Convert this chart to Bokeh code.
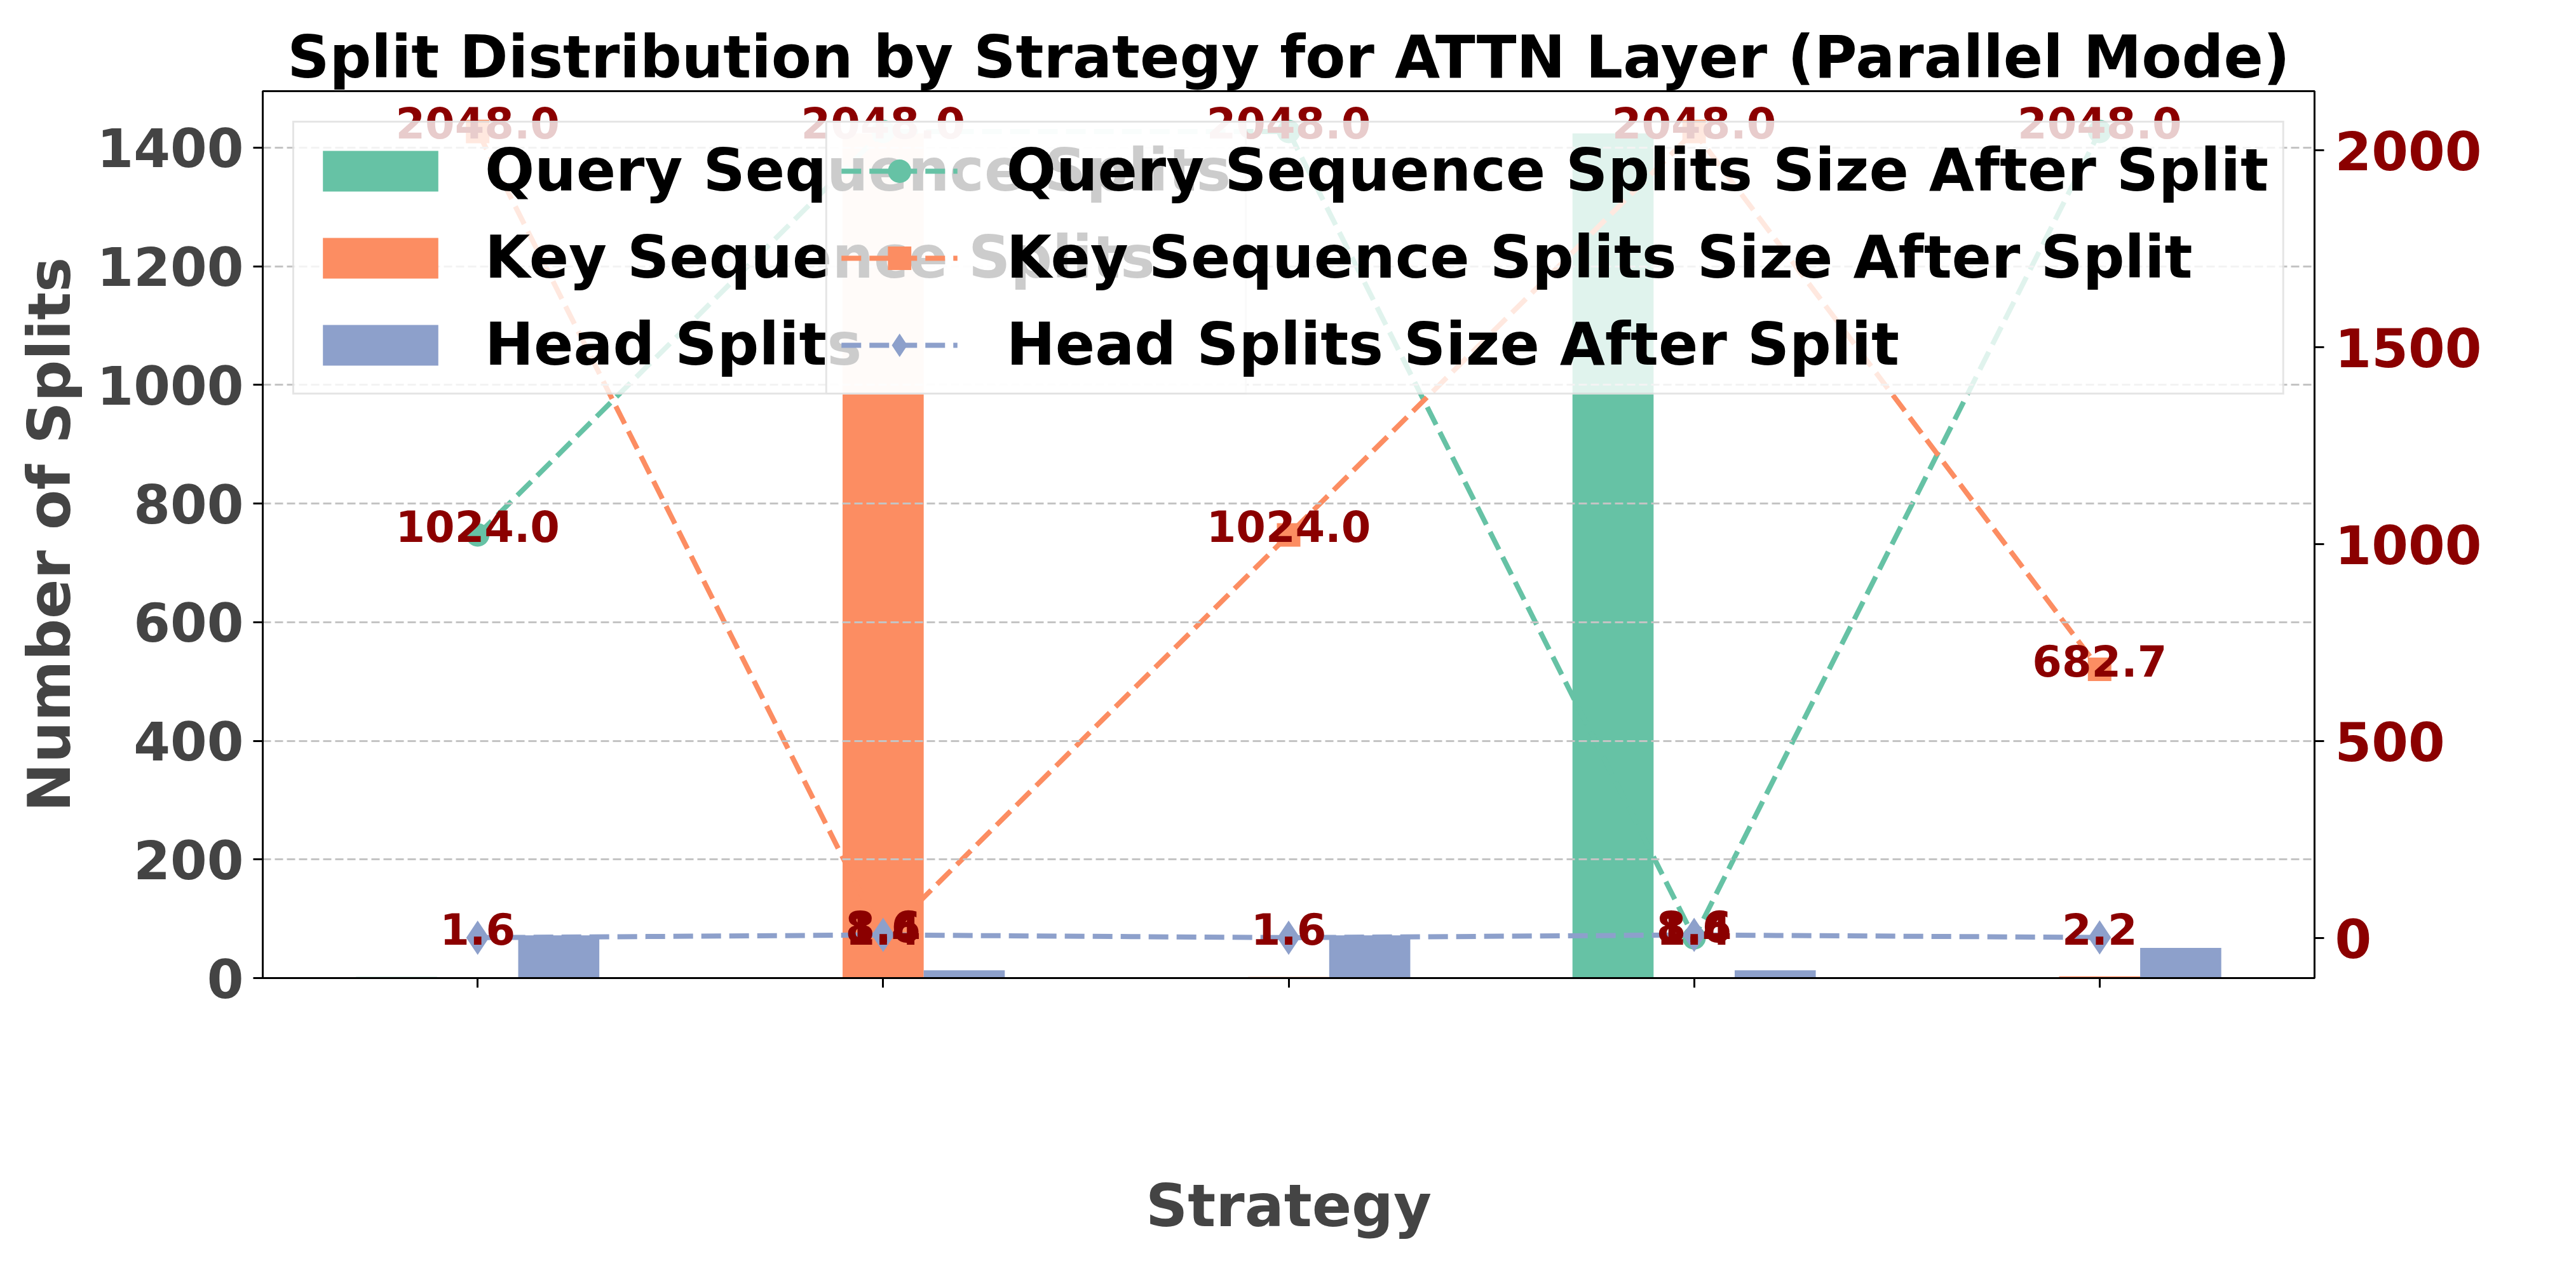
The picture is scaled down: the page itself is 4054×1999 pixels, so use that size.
import numpy as np
from bokeh.plotting import figure
from bokeh.models import Range1d, LinearAxis, FixedTicker, Legend, LegendItem, Label
from bokeh.core.properties import value
from bokeh.embed import file_html
from bokeh.resources import INLINE

# ---------------- data ----------------
strategies = ["Head-embedding", "Key-Sequence", "Hybrid", "Query-Sequence", "Combined"]
query_splits = [2, 1, 1, 1424, 1]
key_splits = [1, 1424, 2, 1, 3]
head_splits = [72, 13, 72, 13, 51]
query_size = [1024.0, 2048.0, 2048.0, 1.4, 2048.0]
key_size = [2048.0, 1.4, 1024.0, 2048.0, 682.7]
head_size = [1.6, 8.6, 1.6, 8.6, 2.2]
left_ticks = [0, 200, 400, 600, 800, 1000, 1200, 1400]
right_ticks = [0, 500, 1000, 1500, 2000]

title_text = "Split Distribution by Strategy for ATTN Layer (Parallel Mode)"
bar_labels = ["Query Sequence Splits", "Key Sequence Splits", "Head Splits"]
line_labels = ["Query Sequence Splits Size After Split",
               "Key Sequence Splits Size After Split",
               "Head Splits Size After Split"]

# ---------------- layout / style ----------------
W, H = 4054, 1999
FL, FR, FT, FB = 413, 3642, 143, 1539
C_Q, C_K, C_H = "#66c2a5", "#fc8d62", "#8da0cb"
DARKRED = "#8B0000"
FONT = "DejaVu Sans"
BIG = "92px"
BW = 0.2

n = len(strategies)
pos = [float(i) for i in range(n)]
xlo = pos[0] - 1.5 * BW
xhi = pos[-1] + 1.5 * BW
xm = 0.05 * (xhi - xlo)
xlo, xhi = xlo - xm, xhi + xm
ytop = max(max(query_splits), max(key_splits), max(head_splits)) * 1.05
allsz = query_size + key_size + head_size
rm = 0.05 * (max(allsz) - min(allsz))
rlo, rhi = min(allsz) - rm, max(allsz) + rm


def px2x(px):
    return float(xlo + (px - FL) * (xhi - xlo) / (FR - FL))


def py2y(py):
    return float((FB - py) * ytop / (FB - FT))


p = figure(width=W, height=H, x_range=Range1d(xlo, xhi), y_range=Range1d(0, ytop),
           output_backend="svg", toolbar_location=None, title=title_text,
           min_border_left=FL, min_border_right=W - FR, min_border_top=FT,
           min_border_bottom=H - FB)
p.extra_y_ranges = {"size": Range1d(rlo, rhi)}
p.background_fill_color = "white"
p.border_fill_color = "white"
p.outline_line_color = "black"
p.outline_line_width = 3

p.title.text_font = FONT
p.title.text_font_size = BIG
p.title.text_font_style = "bold"
p.title.align = "center"
p.title.standoff = 0
p.title.text_color = "black"

# grid
p.xgrid.grid_line_color = None
p.ygrid.ticker = FixedTicker(ticks=left_ticks)
p.ygrid.grid_line_color = "#c4c4c4"
p.ygrid.grid_line_dash = "13 6"
p.ygrid.grid_line_width = 3
p.ygrid.level = "glyph"

# bars
bq = p.vbar(x=[x - BW for x in pos], top=query_splits, width=BW, color=C_Q, line_color=None, level="underlay")
bk = p.vbar(x=pos, top=key_splits, width=BW, color=C_K, line_color=None, level="underlay")
bh = p.vbar(x=[x + BW for x in pos], top=head_splits, width=BW, color=C_H, line_color=None, level="underlay")

# lines with markers
dash = "31 13"
lq = p.line(pos, query_size, y_range_name="size", color=C_Q, line_width=8, line_dash=dash)
sq = p.scatter(pos, query_size, y_range_name="size", marker="circle", size=37, color=C_Q, line_alpha=0)
lk = p.line(pos, key_size, y_range_name="size", color=C_K, line_width=8, line_dash=dash)
sk = p.scatter(pos, key_size, y_range_name="size", marker="square", size=37, color=C_K, line_alpha=0)
lh = p.line(pos, head_size, y_range_name="size", color=C_H, line_width=8, line_dash=dash)
sh = p.scatter(pos, head_size, y_range_name="size", marker="diamond", size=54, color=C_H, line_alpha=0)

# value labels
for series in (query_size, key_size, head_size):
    p.text(pos, series, text=[f"{v:.1f}" for v in series], y_range_name="size",
           text_align="center", text_baseline="alphabetic", y_offset=-14,
           text_font=value(FONT), text_font_style="bold", text_font_size="67px",
           text_color=DARKRED)

# axes
ya = p.yaxis[0]
ya.ticker = FixedTicker(ticks=left_ticks)
ya.axis_label = "Number of Splits"
ya.axis_label_text_font = FONT
ya.axis_label_text_font_size = BIG
ya.axis_label_text_font_style = "bold"
ya.axis_label_standoff = 17
ya.major_label_text_font = FONT
ya.major_label_text_font_size = "83px"
ya.major_label_text_font_style = "bold"
ya.major_label_standoff = 15
ya.major_tick_out = 15
ya.major_tick_in = 0
ya.major_tick_line_width = 3
ya.minor_tick_line_color = None
ya.axis_line_width = 3

ra = LinearAxis(y_range_name="size", ticker=FixedTicker(ticks=right_ticks))
ra.major_label_text_font = FONT
ra.major_label_text_font_size = "83px"
ra.major_label_text_font_style = "bold"
ra.major_label_text_color = DARKRED
ra.major_label_standoff = 17
ra.major_tick_out = 15
ra.major_tick_in = 0
ra.major_tick_line_width = 3
ra.minor_tick_line_color = None
ra.axis_line_width = 3
p.add_layout(ra, "right")

xa = p.xaxis[0]
xa.ticker = FixedTicker(ticks=pos)
xa.major_label_text_font = FONT
xa.major_label_text_font_size = "12px"
xa.major_label_text_alpha = 0
xa.major_label_standoff = 0
xa.major_tick_out = 15
xa.major_tick_in = 0
xa.major_tick_line_width = 3
xa.minor_tick_line_color = None
xa.axis_line_width = 3
xa.axis_label = "Strategy"
xa.axis_label_text_font = FONT
xa.axis_label_text_font_size = BIG
xa.axis_label_text_font_style = "bold"
xa.axis_label_standoff = 290

# rotated category labels, centred under each tick
ang = float(np.deg2rad(15))
for i, name in enumerate(strategies):
    wpx = len(name) * 0.68 * 83.3
    sy = 1559 + (wpx * np.sin(ang) + 97 * np.cos(ang)) / 2
    p.add_layout(Label(x=pos[i], y=py2y(sy), text=name, angle=ang,
                       text_align="center", text_baseline="middle",
                       text_font=FONT, text_font_size="83px", text_font_style="bold",
                       text_color="black"))

# right axis label (reads bottom to top)
p.add_layout(Label(x=px2x(3996), y=float(ytop / 2), text="Size After Split (Dimension / Splits)",
                   angle=float(np.pi / 2), text_align="center", text_baseline="alphabetic",
                   text_font=FONT, text_font_size=BIG, text_font_style="bold",
                   text_color=DARKRED))

# legends
leg1 = Legend(items=[LegendItem(label=bar_labels[0], renderers=[bq]),
                     LegendItem(label=bar_labels[1], renderers=[bk]),
                     LegendItem(label=bar_labels[2], renderers=[bh])],
              location="top_left", margin=47, padding=22, spacing=30,
              glyph_width=227, glyph_height=80, label_standoff=51,
              label_text_font=FONT, label_text_font_size=BIG,
              label_text_font_style="bold", label_text_color="black",
              border_line_color="#cccccc", border_line_width=3,
              background_fill_color="white", background_fill_alpha=0.8)
leg1.level = "glyph"
p.add_layout(leg1)

leg2 = Legend(items=[LegendItem(label=line_labels[0], renderers=[lq, sq]),
                     LegendItem(label=line_labels[1], renderers=[lk, sk]),
                     LegendItem(label=line_labels[2], renderers=[lh, sh])],
              location="top_right", margin=47, padding=22, spacing=30,
              glyph_width=183, glyph_height=92, label_standoff=77,
              label_text_font=FONT, label_text_font_size=BIG,
              label_text_font_style="bold", label_text_color="black",
              border_line_color="#cccccc", border_line_width=3,
              background_fill_color="white", background_fill_alpha=0.8)
p.add_layout(leg2)

open("out.html", "w").write(file_html(p, INLINE))
